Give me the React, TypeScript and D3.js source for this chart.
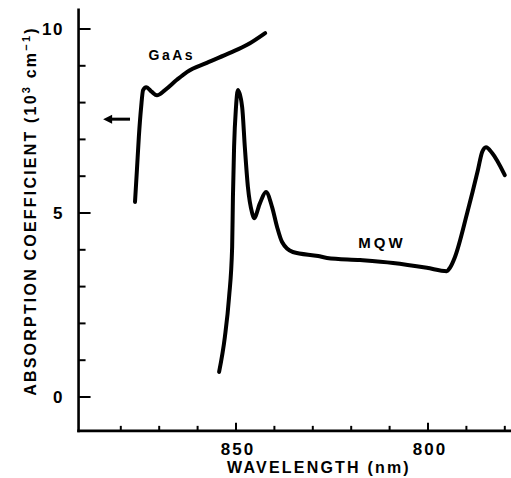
import React from "react";
import * as d3 from "d3";

// ---- data (wavelength nm, absorption 10^3 cm^-1) ----
const gaasWavelength = [876.3, 875.8, 875.3, 874.7, 874.2, 873.4, 871.9, 870.6, 868.5, 865.4, 862.8, 857.6, 851.6, 847.1, 842.4];
const gaasAbsorption = [5.3, 6.17, 7.07, 7.88, 8.34, 8.42, 8.29, 8.2, 8.34, 8.62, 8.83, 9.08, 9.35, 9.57, 9.89];

const mqwWavelength = [854.4, 852.9, 851.8, 851.0, 850.8, 850.5, 850.0, 849.5, 848.4, 847.7, 846.9, 845.8, 845.3, 843.75, 842.2, 840.6, 839.3, 838.0, 835.2, 828.6, 826.3, 817.7, 809.1, 800.3, 795.1, 794.3, 793.0, 789.8, 787.0, 785.9, 784.9, 783.3, 780.0];
const mqwAbsorption = [0.68, 1.63, 2.72, 4.08, 5.43, 6.79, 7.88, 8.34, 7.88, 6.79, 5.71, 5.0, 4.86, 5.27, 5.57, 5.16, 4.62, 4.21, 3.94, 3.83, 3.78, 3.72, 3.64, 3.51, 3.42, 3.51, 3.8, 5.0, 6.17, 6.66, 6.79, 6.63, 6.03];

const xTicks = [880, 870, 860, 850, 840, 830, 820, 810, 800, 790, 780];
const xTickLabels = [850, 800];
const yTicks = [0, 1, 2, 3, 4, 5, 6, 7, 8, 9, 10];
const yTickLabels = [0, 5, 10];

const seriesLabels = ["GaAs", "MQW"];
const arrowWavelength = [877.6, 884.6];
const arrowValue = 7.55;

const W = 511;
const H = 478;
const FONT = "'Liberation Sans', Arial, sans-serif";

export default function App() {
  const x = d3.scaleLinear().domain([850, 800]).range([236, 428]);
  const y = d3.scaleLinear().domain([0, 10]).range([397, 29]);
  const xMin = 891;
  const xMax = 778.6;
  const yMin = -0.92;
  const yMax = 10.52;

  const line = d3
    .line<[number, number]>()
    .x((d) => x(d[0]))
    .y((d) => y(d[1]))
    .curve(d3.curveMonotoneX);

  const gaas = gaasWavelength.map((w, i) => [w, gaasAbsorption[i]] as [number, number]);
  const mqw = mqwWavelength.map((w, i) => [w, mqwAbsorption[i]] as [number, number]);

  const axX = x(xMin);
  const axY = y(yMin);
  const ax0 = x(arrowWavelength[0]);
  const ax1 = x(arrowWavelength[1]);
  const ay = y(arrowValue);

  return (
    <div style={{ position: "fixed", left: 0, top: 0, width: W, height: H, background: "#fff" }}>
      <svg width={W} height={H} viewBox={`0 0 ${W} ${H}`} style={{ display: "block" }}>
        <rect width={W} height={H} fill="#fff" />
        {/* axes */}
        <line x1={axX} y1={y(yMax)} x2={axX} y2={axY} stroke="#000" strokeWidth={2.6} strokeLinecap="square" />
        <line x1={axX} y1={axY} x2={x(xMax)} y2={axY} stroke="#000" strokeWidth={2.6} strokeLinecap="square" />
        {yTicks.map((t) => (
          <line
            key={"yt" + t}
            x1={axX}
            x2={axX + (yTickLabels.includes(t) ? 12 : 7)}
            y1={y(t)}
            y2={y(t)}
            stroke="#000"
            strokeWidth={2}
          />
        ))}
        {xTicks.map((t) => (
          <line
            key={"xt" + t}
            x1={x(t)}
            x2={x(t)}
            y1={axY}
            y2={axY - (xTickLabels.includes(t) ? 8 : 5)}
            stroke="#000"
            strokeWidth={2}
          />
        ))}
        {yTickLabels.map((t) => (
          <text
            key={"yl" + t}
            x={64}
            y={y(t) + 6}
            textAnchor="end"
            fontFamily={FONT}
            fontWeight="bold"
            fontSize={17}
            letterSpacing={1.5}
          >
            {t}
          </text>
        ))}
        {xTickLabels.map((t) => (
          <text
            key={"xl" + t}
            x={x(t) + 2}
            y={455}
            textAnchor="middle"
            fontFamily={FONT}
            fontWeight="bold"
            fontSize={17}
            letterSpacing={2}
          >
            {t}
          </text>
        ))}
        {/* axis titles */}
        <text
          x={319}
          y={473}
          textAnchor="middle"
          fontFamily={FONT}
          fontWeight="bold"
          fontSize={16}
          letterSpacing={2.2}
        >
          WAVELENGTH (nm)
        </text>
        <text
          transform={`translate(36,211) rotate(-90)`}
          textAnchor="middle"
          fontFamily={FONT}
          fontWeight="bold"
          fontSize={16}
          letterSpacing={2.2}
        >
          ABSORPTION COEFFICIENT (10
          <tspan dy={-6} fontSize={11}>3</tspan>
          <tspan dy={6}> cm</tspan>
          <tspan dy={-6} fontSize={11}>−1</tspan>
          <tspan dy={6}>)</tspan>
        </text>
        {/* curves */}
        <path d={line(gaas) || ""} fill="none" stroke="#000" strokeWidth={4} strokeLinejoin="round" strokeLinecap="round" />
        <path d={line(mqw) || ""} fill="none" stroke="#000" strokeWidth={4} strokeLinejoin="round" strokeLinecap="round" />
        {/* labels */}
        <text
          x={x(866.7)}
          y={y(9.16)}
          textAnchor="middle"
          fontFamily={FONT}
          fontWeight="bold"
          fontSize={14}
          letterSpacing={2.5}
        >
          {seriesLabels[0]}
        </text>
        <text
          x={x(812)}
          y={y(4.05)}
          textAnchor="middle"
          fontFamily={FONT}
          fontWeight="bold"
          fontSize={15}
          letterSpacing={3}
        >
          {seriesLabels[1]}
        </text>
        {/* arrow */}
        <line x1={ax0} y1={ay} x2={ax1 + 6} y2={ay} stroke="#000" strokeWidth={3} />
        <path
          d={`M${ax1},${ay} L${ax1 + 9},${ay - 4.5} L${ax1 + 9},${ay + 4.5} Z`}
          fill="#000"
        />
      </svg>
    </div>
  );
}
